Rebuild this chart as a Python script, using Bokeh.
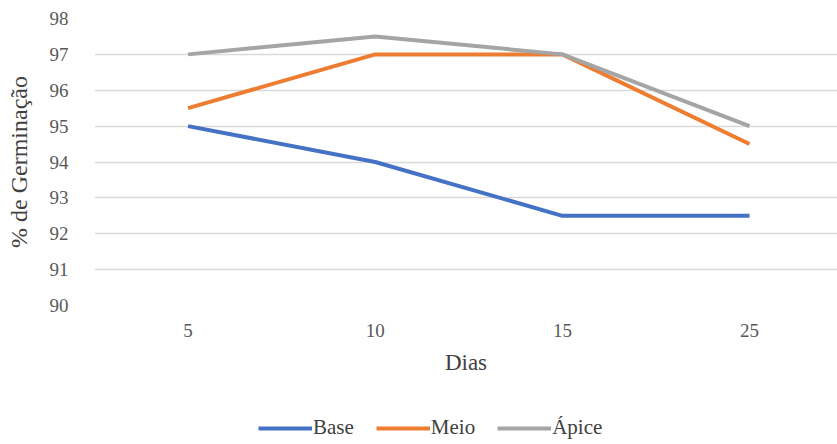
from bokeh.plotting import figure
from bokeh.layouts import column
from bokeh.models import Legend, LegendItem, FixedTicker, Range1d
from bokeh.embed import file_html
from bokeh.resources import INLINE

dias = ["5", "10", "15", "25"]
base = [95, 94, 92.5, 92.5]
meio = [95.5, 97, 97, 94.5]
apice = [97, 97.5, 97, 95]
y_ticks = [90, 91, 92, 93, 94, 95, 96, 97, 98]
series_names = ["Base", "Meio", "Ápice"]
colors = ["#4472C4", "#ED7D31", "#A5A5A5"]

xs = list(range(len(dias)))
FONT = "Liberation Serif"
LW = 4

p = figure(width=837, height=390, output_backend="svg", toolbar_location=None,
           x_range=Range1d(-0.5, 3.47), y_range=Range1d(90, 98),
           min_border_left=94, min_border_right=0, min_border_top=18, min_border_bottom=85)
p.outline_line_color = None
p.background_fill_color = "white"

for vals, c in zip([base, meio, apice], colors):
    p.line(xs, vals, line_color=c, line_width=LW)

p.xgrid.grid_line_color = None
p.ygrid.grid_line_color = "#D9D9D9"
p.ygrid.grid_line_width = 1.5
p.yaxis.ticker = FixedTicker(ticks=y_ticks)
p.xaxis.ticker = FixedTicker(ticks=xs)
p.xaxis.major_label_overrides = {i: d for i, d in enumerate(dias)}

for ax in (p.xaxis[0], p.yaxis[0]):
    ax.axis_line_color = None
    ax.major_tick_line_color = None
    ax.minor_tick_line_color = None
    ax.major_label_text_font = FONT
    ax.major_label_text_font_size = "19px"
    ax.major_label_text_color = "#595959"
    ax.axis_label_text_font = FONT
    ax.axis_label_text_font_size = "24px"
    ax.axis_label_text_font_style = "normal"
    ax.axis_label_text_color = "#404040"

p.xaxis.axis_label = "Dias"
p.xaxis.axis_label_text_font_size = "23px"
p.yaxis.axis_label = "% de Germinação"
p.yaxis.major_label_standoff = 20
p.yaxis.axis_label_standoff = 15
p.xaxis.major_label_standoff = 12
p.xaxis.axis_label_standoff = 10

# legend strip below the chart
p2 = figure(width=837, height=50, output_backend="svg", toolbar_location=None,
            x_range=Range1d(0, 1), y_range=Range1d(0, 1),
            x_axis_location=None, y_axis_location=None,
            min_border_left=94, min_border_right=0, min_border_top=0, min_border_bottom=0)
p2.outline_line_color = None
p2.grid.visible = False
nan = float("nan")
items = []
for name, c in zip(series_names, colors):
    r = p2.line([nan], [nan], line_color=c, line_width=LW)
    items.append(LegendItem(label=name, renderers=[r]))

legend = Legend(items=items, orientation="horizontal", location=(164, 0),
                label_text_font=FONT, label_text_font_size="21px",
                label_text_color="#404040", glyph_width=54, glyph_height=16,
                label_height=16, label_standoff=1,
                spacing=22, border_line_color=None, background_fill_alpha=0,
                padding=0, margin=0)
p2.add_layout(legend, "center")

layout = column(p, p2, spacing=0)
open("out.html", "w").write(file_html(layout, INLINE))
